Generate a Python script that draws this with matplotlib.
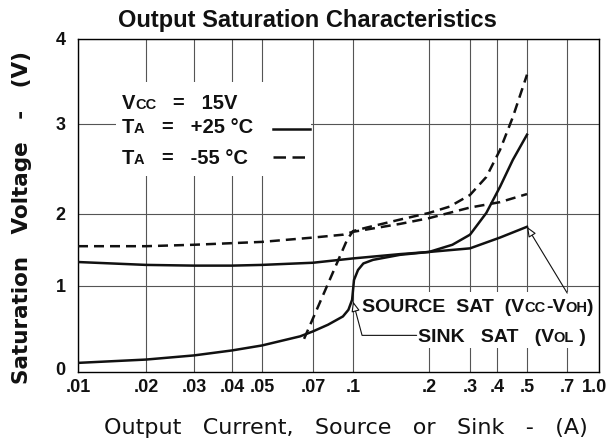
import numpy as np
import matplotlib
matplotlib.use('Agg')
import matplotlib.pyplot as plt
import matplotlib.transforms as mtransforms
from matplotlib.patches import Rectangle
from matplotlib.offsetbox import TextArea, HPacker, AnnotationBbox

# curves (output current in A, saturation voltage in V)
sink25_i = [0.01, 0.02, 0.03, 0.04, 0.05, 0.0643, 0.07, 0.08, 0.0914, 0.096, 0.0992, 0.1009, 0.1047,
            0.1099, 0.12, 0.1535, 0.2, 0.252, 0.3, 0.357, 0.409, 0.45, 0.5]
sink25_v = [0.07, 0.11, 0.16, 0.22, 0.28, 0.39, 0.45, 0.53, 0.63, 0.71, 0.83, 1.08, 1.22,
            1.31, 1.36, 1.43, 1.47, 1.57, 1.71, 2.01, 2.30, 2.60, 2.88]

source25_i = [0.01, 0.02, 0.03, 0.04, 0.05, 0.07, 0.1, 0.1535, 0.2, 0.3, 0.409, 0.5]
source25_v = [1.33, 1.29, 1.28, 1.28, 1.29, 1.32, 1.38, 1.44, 1.47, 1.52, 1.67, 1.82]

sink55_i = [0.066, 0.0949, 0.1, 0.1136, 0.1535, 0.2, 0.245, 0.3, 0.357, 0.409, 0.45, 0.5]
sink55_v = [0.36, 1.64, 1.76, 1.81, 1.92, 2.01, 2.08, 2.21, 2.41, 2.71, 3.08, 3.58]

source55_i = [0.01, 0.02, 0.03, 0.05, 0.07, 0.0914, 0.1, 0.1535, 0.2, 0.3, 0.409, 0.5]
source55_v = [1.55, 1.55, 1.57, 1.61, 1.67, 1.71, 1.75, 1.86, 1.94, 2.07, 2.13, 2.22]

x_ticks = [0.01, 0.02, 0.03, 0.04, 0.05, 0.07, 0.1, 0.2, 0.3, 0.4, 0.5, 0.7, 1.0]
x_labels = ['.01', '.02', '.03', '.04', '.05', '.07', '.1', '.2', '.3', '.4', '.5', '.7', '1.0']
y_ticks = [0, 1, 2, 3, 4]

# the printed grid is hand drawn, so the axes are not evenly spaced:
# where each tick sits on the page (pixels)
x_tick_px = [78, 146, 194, 232, 262, 313, 353, 429, 470, 497, 527, 567, 599]
y_tick_px = [369, 286, 214, 124, 39]


def piecewise(v, xs, ys):
    v = np.asarray(v, dtype=float)
    out = np.interp(v, xs, ys)
    lo_slope = (ys[1] - ys[0]) / (xs[1] - xs[0])
    hi_slope = (ys[-1] - ys[-2]) / (xs[-1] - xs[-2])
    out = np.where(v < xs[0], ys[0] + (v - xs[0]) * lo_slope, out)
    out = np.where(v > xs[-1], ys[-1] + (v - xs[-1]) * hi_slope, out)
    return out


lx = np.log10(x_ticks)
xp = np.array(x_tick_px, dtype=float)
yp = -np.array(y_tick_px, dtype=float)


def fwd_x(x):
    return piecewise(np.log10(np.clip(np.asarray(x, dtype=float), 1e-9, None)), lx, xp)


def inv_x(p):
    return 10 ** piecewise(p, xp, lx)


def fwd_y(v):
    return piecewise(v, y_ticks, yp)


def inv_y(p):
    return piecewise(p, yp, y_ticks)


W, H = 609, 447
fig = plt.figure(figsize=(W / 100, H / 100), dpi=100)
L, R, T, B = 78, 599, 39, 372
ax = fig.add_axes([L / W, 1 - B / H, (R - L) / W, (B - T) / H])

ax.set_xscale('function', functions=(fwd_x, inv_x))
ax.set_yscale('function', functions=(fwd_y, inv_y))
ax.set_xlim(0.01, 1.0)
ax.set_ylim(-0.04, 4)

ax.set_xticks(x_ticks)
ax.set_xticklabels(x_labels)
ax.set_yticks(y_ticks)
ax.minorticks_off()
ax.tick_params(length=0)
ax.tick_params(axis='x', pad=5, labelsize=13)
ax.tick_params(axis='y', pad=9, labelsize=13)
for lab in ax.get_xticklabels() + ax.get_yticklabels():
    lab.set_fontweight('bold')
    lab.set_fontfamily('Liberation Sans')
    lab.set_color('#111111')
# last label sits flush with the right edge, like the printed sheet
last = ax.get_xticklabels()[-1]
last.set_horizontalalignment('right')
last.set_transform(last.get_transform() + mtransforms.ScaledTranslation(6 / 72, 0, fig.dpi_scale_trans))

ax.set_axisbelow(True)
ax.grid(True, color='#555555', lw=0.8)
ax.get_ygridlines()[0].set_visible(False)
for s in ax.spines.values():
    s.set_linewidth(1.0)

lw = 1.8
ax.plot(sink25_i, sink25_v, color='#111111', lw=lw, zorder=3)
ax.plot(source25_i, source25_v, color='#111111', lw=lw, zorder=3)
ax.plot(sink55_i, sink55_v, color='#111111', lw=lw, dashes=(4, 2.4), zorder=3)
ax.plot(source55_i, source55_v, color='#111111', lw=lw, dashes=(4, 2.4), zorder=3)

# white blocks behind the condition text and the curve labels
ax.add_patch(Rectangle((0.073, 0.59), 0.375, 0.28, transform=ax.transAxes,
                       fc='white', ec='none', zorder=2))
ax.add_patch(Rectangle((0.541, 0.084), 0.457, 0.156, transform=ax.transAxes,
                       fc='white', ec='none', zorder=2))

big = dict(size=14.5, weight='bold', family='Liberation Sans', color='#111111')
small = dict(size=10.5, weight='bold', family='Liberation Sans', color='#111111')


def row(parts):
    kids = [TextArea(t, textprops=(small if s else big)) for t, s in parts]
    return HPacker(children=kids, align='baseline', pad=0, sep=0)


def place(box, xy, coords='axes fraction', align=(0, 0.5), **kw):
    ab = AnnotationBbox(box, xy, xycoords=coords, box_alignment=align, frameon=True,
                        pad=0.15, bboxprops=dict(fc='white', ec='none'), zorder=4, **kw)
    ax.add_artist(ab)
    return ab


place(row([('V', 0), ('CC', 1), ('   =   15V', 0)]), (0.084, 0.805))
place(row([('T', 0), ('A', 1), ('   =   +25 °C', 0)]), (0.084, 0.733))
place(row([('T', 0), ('A', 1), ('   =   -55 °C', 0)]), (0.084, 0.640))
ax.plot([0.374, 0.445], [0.731, 0.731], transform=ax.transAxes, color='#111111', lw=lw, zorder=5)
ax.plot([0.374, 0.445], [0.646, 0.646], transform=ax.transAxes, color='#111111', lw=lw,
        dashes=(5, 2.6), zorder=5)

big['size'] = 14
small['size'] = 10.5
src = row([('SOURCE  SAT  (V', 0), ('CC', 1), ('-V', 0), ('OH', 1), (')', 0)])
place(src, (0.546, 0.195))
snk = row([('SINK   SAT   (V', 0), ('OL', 1), (' )', 0)])
place(snk, (0.652, 0.105))

# arrow from the source label to the end of the source curve
ax.annotate('', xy=(0.5, 1.82), xycoords='data', xytext=(0.939, 0.237), textcoords='axes fraction',
            arrowprops=dict(arrowstyle='-|>,head_length=0.6,head_width=0.25', fc='white', ec='#111111',
                            lw=0.8, shrinkA=0, shrinkB=0), zorder=5)
# elbow leader from the sink label to the sink curve
ax.annotate('', xy=(0.1, 0.81), xycoords='data', xytext=(0.65, 0.11), textcoords='axes fraction',
            arrowprops=dict(arrowstyle='-|>,head_length=0.6,head_width=0.25', fc='white', ec='#111111',
                            lw=0.8, shrinkA=0, shrinkB=0,
                            connectionstyle='angle,angleA=0,angleB=105,rad=0'), zorder=5)

fig.text(307 / W, 1 - 21 / H, 'Output Saturation Characteristics', ha='center', va='center',
         fontsize=17, fontweight='bold', family='Liberation Sans', color='#111111')
fig.text(346 / W, 1 - 428 / H, 'Output   Current,   Source   or   Sink   -   (A)', ha='center',
         va='center', fontsize=16, family='DejaVu Sans', color='#111111')
fig.text(22 / W, 1 - 217 / H, 'Saturation   Voltage   -   (V)', ha='center', va='center', rotation=90,
         fontsize=15.5, fontweight='bold', family='DejaVu Sans', color='#111111')

fig.savefig('out.png', dpi=100)
